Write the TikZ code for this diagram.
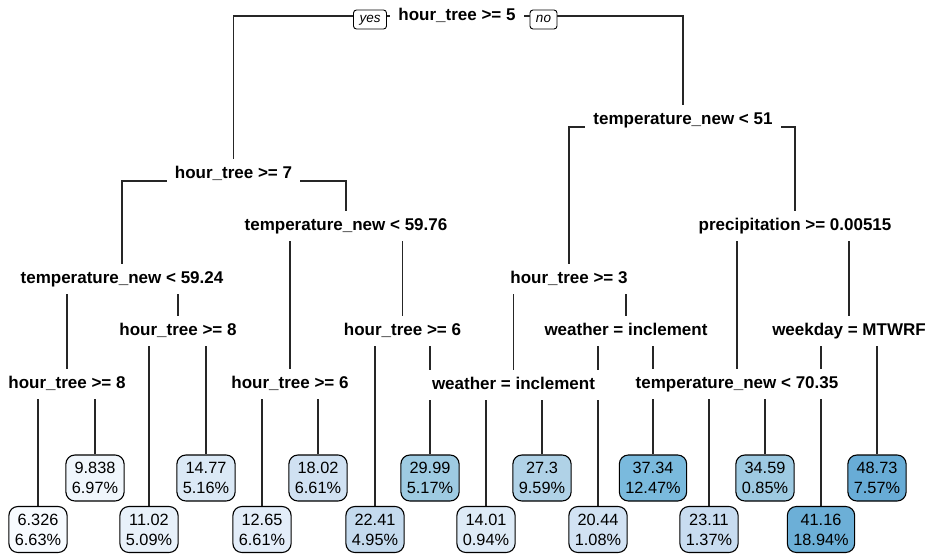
\documentclass[tikz,border=0pt]{standalone}
\usepackage{fontspec}
\setmainfont{Liberation Sans}
\usetikzlibrary{backgrounds}
\definecolor{c6}{RGB}{247,251,255}
\definecolor{c9}{RGB}{240,246,252}
\definecolor{c11}{RGB}{232,241,250}
\definecolor{c12}{RGB}{227,237,249}
\definecolor{c14}{RGB}{222,235,247}
\definecolor{c14b}{RGB}{219,233,246}
\definecolor{c18}{RGB}{208,225,242}
\definecolor{c20}{RGB}{210,226,243}
\definecolor{c22}{RGB}{196,218,238}
\definecolor{c23}{RGB}{200,220,240}
\definecolor{c27}{RGB}{176,210,231}
\definecolor{c29}{RGB}{158,203,226}
\definecolor{c34}{RGB}{158,202,226}
\definecolor{c37}{RGB}{122,186,221}
\definecolor{c41}{RGB}{108,175,215}
\definecolor{c48}{RGB}{104,172,214}
\begin{document}
\begin{tikzpicture}[x=1pt,y=-1pt,
  split/.style={fill=white,inner xsep=8pt,inner ysep=0pt,minimum height=30pt,
    text height=12pt,text depth=4pt,font=\fontsize{17}{20}\selectfont\bfseries},
  leaf/.style={draw=black,line width=1.1pt,rounded corners=9pt,align=center,
    inner xsep=6pt,inner ysep=0pt,minimum height=46pt,
    font=\fontsize{16.3}{20}\selectfont},
  yn/.style={draw=black,fill=white,line width=0.9pt,rounded corners=3pt,
    inner xsep=6pt,inner ysep=0pt,minimum height=19pt,text height=9pt,text depth=3pt,
    font=\fontsize{13.5}{15}\selectfont\itshape},
  branch/.style={line width=1.3pt,draw=black!85}]
\useasboundingbox (0,0) rectangle (926,555);
% split nodes
\node[split] (root) at (457,16) {hour\_tree >= 5};
\node[split] (n2) at (233.5,174) {hour\_tree >= 7};
\node[split] (n3) at (683,120) {temperature\_new < 51};
\node[split] (n4) at (122,279) {temperature\_new < 59.24};
\node[split] (n5) at (346,226) {temperature\_new < 59.76};
\node[split] (n6) at (569,279) {hour\_tree >= 3};
\node[split] (n7) at (795,226) {precipitation >= 0.00515};
\node[split] (n8) at (67,384) {hour\_tree >= 8};
\node[split] (n9) at (178,331) {hour\_tree >= 8};
\node[split] (n10) at (290,384) {hour\_tree >= 6};
\node[split] (n11) at (402.5,331) {hour\_tree >= 6};
\node[split] (n12) at (513.5,385) {weather = inclement};
\node[split] (n13) at (626,331) {weather = inclement};
\node[split] (n14) at (737,384) {temperature\_new < 70.35};
\node[split] (n15) at (849,331) {weekday = MTWRF};
% yes / no
\node[yn] (yes) at (370,19.5) {yes};
\node[yn] (no) at (543.5,19.5) {no};
% leaves
\node[leaf,fill=c6] (l1) at (38,529.5) {6.326\\6.63\%};
\node[leaf,fill=c9] (l2) at (95,478) {9.838\\6.97\%};
\node[leaf,fill=c11] (l3) at (149,529.5) {11.02\\5.09\%};
\node[leaf,fill=c14b] (l4) at (206,478) {14.77\\5.16\%};
\node[leaf,fill=c12] (l5) at (262,529.5) {12.65\\6.61\%};
\node[leaf,fill=c18] (l6) at (318,478) {18.02\\6.61\%};
\node[leaf,fill=c22] (l7) at (375,529.5) {22.41\\4.95\%};
\node[leaf,fill=c29] (l8) at (430,478) {29.99\\5.17\%};
\node[leaf,fill=c14] (l9) at (486,529.5) {14.01\\0.94\%};
\node[leaf,fill=c27] (l10) at (542,478) {27.3\\9.59\%};
\node[leaf,fill=c20] (l11) at (598,529.5) {20.44\\1.08\%};
\node[leaf,fill=c37] (l12) at (653,478) {37.34\\12.47\%};
\node[leaf,fill=c23] (l13) at (709,529.5) {23.11\\1.37\%};
\node[leaf,fill=c34] (l14) at (765,478) {34.59\\0.85\%};
\node[leaf,fill=c41] (l15) at (821,529.5) {41.16\\18.94\%};
\node[leaf,fill=c48] (l16) at (877,478) {48.73\\7.57\%};
% branches
\begin{scope}[on background layer]
\draw[branch] (n2.north) |- (root.center) -| (n3.north);
\draw[branch] (n4.north) |- ([yshift=-7pt]n2.center) -| (n5.north);
\draw[branch] (n6.north) |- ([yshift=-7pt]n3.center) -| (n7.north);
\draw[branch] (n8.north) |- ([yshift=-7pt]n4.center) -| (n9.north);
\draw[branch] (n10.north) |- ([yshift=-7pt]n5.center) -| (n11.north);
\draw[branch] (n12.north) |- ([yshift=-7pt]n6.center) -| (n13.north);
\draw[branch] (n14.north) |- ([yshift=-7pt]n7.center) -| (n15.north);
\draw[branch] (l1.north) |- ([yshift=-7pt]n8.center) -| (l2.north);
\draw[branch] (l3.north) |- ([yshift=-7pt]n9.center) -| (l4.north);
\draw[branch] (l5.north) |- ([yshift=-7pt]n10.center) -| (l6.north);
\draw[branch] (l7.north) |- ([yshift=-7pt]n11.center) -| (l8.north);
\draw[branch] (l9.north) |- ([yshift=-7pt]n12.center) -| (l10.north);
\draw[branch] (l11.north) |- ([yshift=-7pt]n13.center) -| (l12.north);
\draw[branch] (l13.north) |- ([yshift=-7pt]n14.center) -| (l14.north);
\draw[branch] (l15.north) |- ([yshift=-7pt]n15.center) -| (l16.north);
\end{scope}
\end{tikzpicture}
\end{document}
